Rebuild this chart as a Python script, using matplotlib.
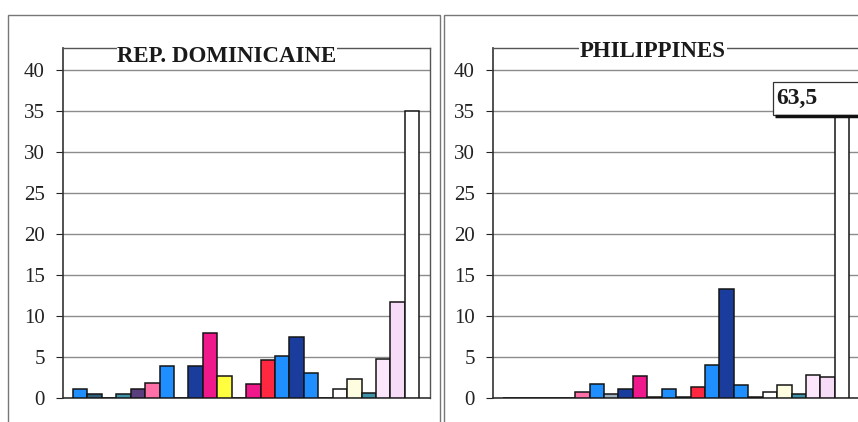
import numpy as np
import matplotlib.pyplot as plt
from matplotlib.patches import Rectangle

# police à empattements, comme le document d'origine
plt.rcParams['font.family'] = ['Liberation Serif', 'DejaVu Serif']

# 24 séries, mêmes couleurs dans les deux pays
series_colors = ['#1f8fff', '#2f5f78', '#8fa8b8', '#3f93a8', '#5a3f7f', '#ff70a8',
                 '#1f8fff', '#9fb0c0', '#1a3c9c', '#f0198c', '#ffff40', '#1f8fff',
                 '#f0198c', '#ff2840', '#1f8fff', '#1a3c9c', '#1f8fff', '#2f5f78',
                 '#ffffff', '#fffde0', '#3f93a8', '#fbe6fb', '#f6dcf6', '#ffffff']

rep_dom = [1.1, 0.5, 0, 0.5, 1.1, 1.8, 3.9, 0, 3.9, 7.9, 2.7, 0,
           1.7, 4.6, 5.1, 7.4, 3.0, 0, 1.1, 2.3, 0.6, 4.7, 11.7, 35.0]
philippines = [0, 0, 0, 0, 0, 0.7, 1.7, 0.5, 1.1, 2.7, 0.1, 1.1,
               0.1, 1.3, 4.0, 13.3, 1.6, 0.1, 0.7, 1.6, 0.5, 2.8, 2.6, 63.5]
yticks = [0, 5, 10, 15, 20, 25, 30, 35, 40]
titles = ['REP. DOMINICAINE', 'PHILIPPINES']

W, H = 858, 422
fig = plt.figure(figsize=(W / 100, H / 100), dpi=100)

# cadres des deux panneaux
fig.patches.append(Rectangle((8 / W, -0.05), 432 / W, 1.05 - 15 / H, transform=fig.transFigure,
                             fill=False, edgecolor='#777777', lw=1.0))
fig.patches.append(Rectangle((444 / W, -0.05), 0.6, 1.05 - 15 / H, transform=fig.transFigure,
                             fill=False, edgecolor='#777777', lw=1.0))


def draw_panel(left_px, values, title, title_pos):
    ax = fig.add_axes([left_px / W, 24 / H, 367 / W, 350 / H])
    x = np.arange(len(values))
    bars = ax.bar(x, values, width=1.0, color=series_colors, edgecolor='#151515', linewidth=1.1, zorder=3)
    ax.set_xlim(-1.19, 24.24)
    ax.set_ylim(0, 42.7)
    ax.set_yticks(yticks)
    ax.set_xticks([])
    ax.yaxis.grid(True, color='#8c8c8c', lw=1.0)
    ax.set_axisbelow(True)
    ax.tick_params(axis='y', length=5, width=0.8, pad=8, labelsize=15, colors='#222222')
    for s in ['left', 'bottom']:
        ax.spines[s].set_color('#333333')
        ax.spines[s].set_linewidth(1.2)
    for s in ['top', 'right']:
        ax.spines[s].set_color('#555555')
        ax.spines[s].set_linewidth(1.0)
    ax.text(title_pos[0], title_pos[1], title, transform=ax.transAxes, ha='center', va='center',
            fontsize=16.5, fontweight='bold', color='#1a1a1a', zorder=6,
            bbox=dict(facecolor='white', edgecolor='none', pad=0.5))
    return ax, bars


ax1, _ = draw_panel(63, rep_dom, titles[0], (0.447, 0.977))
ax2, bars2 = draw_panel(493, philippines, titles[1], (0.436, 0.989))

# valeur hors échelle de la dernière barre : barre coupée sous l'étiquette
box_y = 0.809
clip = Rectangle((0, 0), 1, box_y, transform=ax2.transAxes, visible=False)
ax2.add_patch(clip)
bars2[-1].set_clip_path(clip)
ax2.add_patch(Rectangle((0.763, box_y), 0.3, 0.094, transform=ax2.transAxes, facecolor='white',
                        edgecolor='#333333', lw=0.9, zorder=7, clip_on=False))
ax2.plot([0.768, 1.0], [box_y - 0.002, box_y - 0.002], transform=ax2.transAxes, color='#111111', lw=2.5,
         zorder=8, clip_on=False, solid_capstyle='butt')
ax2.text(0.772, 0.857, f'{philippines[-1]:.1f}'.replace('.', ','), transform=ax2.transAxes,
         ha='left', va='center', fontsize=17, fontweight='bold', color='#1a1a1a', zorder=9)

fig.savefig('out.png', dpi=100)
